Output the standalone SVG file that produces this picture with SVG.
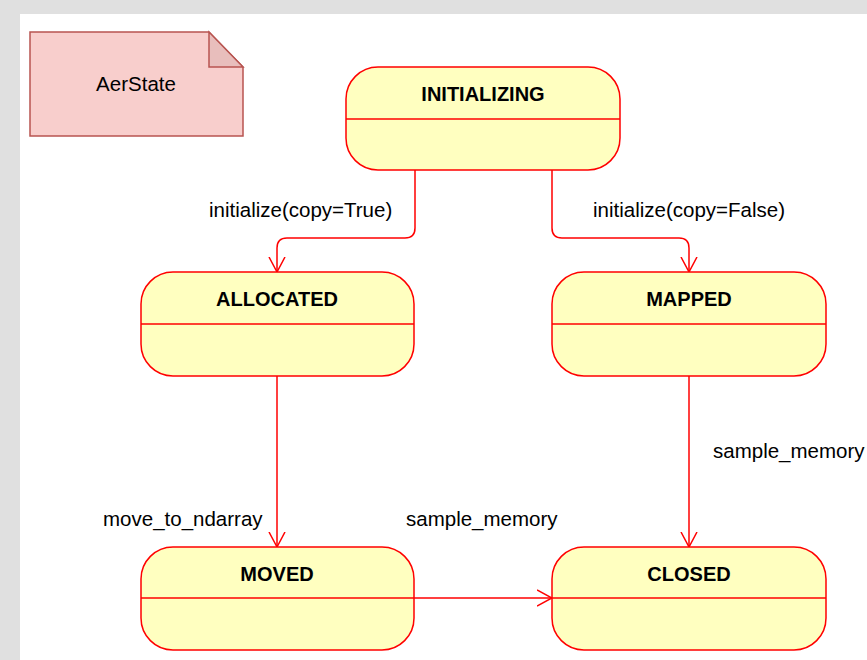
<svg xmlns="http://www.w3.org/2000/svg" width="867" height="660" viewBox="0 0 867 660">
<style>
.state{fill:#ffffc0;stroke:#ff0000;stroke-width:1.5}
.div{stroke:#ff0000;stroke-width:1.5}
.title{font-family:"Liberation Sans",Arial,sans-serif;font-size:20px;font-weight:bold;fill:#000;text-anchor:middle}
.lbl{font-family:"Liberation Sans",Arial,sans-serif;font-size:20.5px;fill:#000}
.edge{fill:none;stroke:#ff0000;stroke-width:1.5;marker-end:url(#arr)}
</style>
<defs>
<marker id="arr" viewBox="0 0 16 18" refX="15" refY="9" markerWidth="16" markerHeight="18" markerUnits="userSpaceOnUse" orient="auto">
<path d="M0,1 L15,9 L0,17" fill="none" stroke="#ff0000" stroke-width="1.5"/>
</marker>
</defs>
<rect x="0" y="0" width="867" height="660" fill="#e0e0e0"/>
<rect x="20" y="14" width="847" height="646" fill="#ffffff"/>
<g id="note">
<path d="M30,32 H209 L243,67 V136 H30 Z" fill="#f8cecc" stroke="#b85450" stroke-width="1.5"/>
<path d="M209,32 V67 H243 Z" fill="#e8bebc" stroke="#b85450" stroke-width="1.5"/>
<text x="136" y="91" class="lbl" text-anchor="middle">AerState</text>
</g>
<g id="connectors">
<path class="edge" d="M415,170 V228 Q415,238 405,238 H287 Q277,238 277,248 V272"/>
<path class="edge" d="M552,170 V228 Q552,238 562,238 H679 Q689,238 689,248 V272"/>
<path class="edge" d="M277,376 V547"/>
<path class="edge" d="M689,376 V547"/>
<path class="edge" d="M414,598 H552"/>
<text x="209" y="217" class="lbl">initialize(copy=True)</text>
<text x="593" y="217" class="lbl">initialize(copy=False)</text>
<text x="103" y="526" class="lbl">move_to_ndarray</text>
<text x="406" y="526" class="lbl">sample_memory</text>
<text x="713" y="458" class="lbl">sample_memory</text>
</g>
<g id="INITIALIZING">
<rect class="state" x="346" y="67" width="274" height="103" rx="32" ry="32"/>
<line class="div" x1="346" y1="119" x2="620" y2="119"/>
<text class="title" x="483" y="101">INITIALIZING</text>
</g>
<g id="ALLOCATED">
<rect class="state" x="141" y="272" width="273" height="104" rx="32" ry="32"/>
<line class="div" x1="141" y1="324" x2="414" y2="324"/>
<text class="title" x="277" y="306">ALLOCATED</text>
</g>
<g id="MAPPED">
<rect class="state" x="552" y="272" width="274" height="104" rx="32" ry="32"/>
<line class="div" x1="552" y1="324" x2="826" y2="324"/>
<text class="title" x="689" y="306">MAPPED</text>
</g>
<g id="MOVED">
<rect class="state" x="141" y="547" width="273" height="103" rx="32" ry="32"/>
<line class="div" x1="141" y1="598" x2="414" y2="598"/>
<text class="title" x="277" y="581">MOVED</text>
</g>
<g id="CLOSED">
<rect class="state" x="552" y="547" width="274" height="103" rx="32" ry="32"/>
<line class="div" x1="552" y1="598" x2="826" y2="598"/>
<text class="title" x="689" y="581">CLOSED</text>
</g>
</svg>
